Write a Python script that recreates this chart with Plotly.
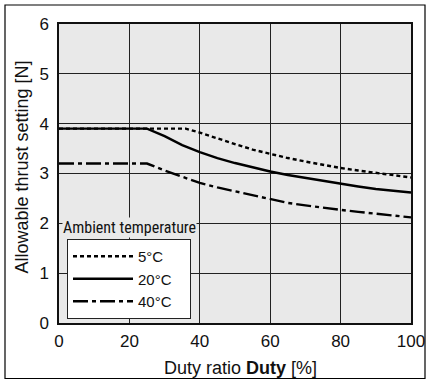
import plotly.graph_objects as go

duty_5 = [0, 36, 40, 45, 50, 55, 60, 65, 70, 75, 80, 85, 90, 95, 100]
thrust_5 = [3.9, 3.9, 3.82, 3.70, 3.59, 3.48, 3.39, 3.31, 3.24, 3.17, 3.11, 3.06, 3.01, 2.96, 2.92]

duty_20 = [0, 25, 30, 35, 40, 45, 50, 55, 60, 65, 70, 75, 80, 85, 90, 95, 100]
thrust_20 = [3.9, 3.9, 3.75, 3.57, 3.43, 3.31, 3.21, 3.12, 3.04, 2.97, 2.91, 2.85, 2.79, 2.74, 2.69, 2.65, 2.62]

duty_40 = [0, 25, 30, 35, 40, 45, 50, 55, 60, 65, 70, 75, 80, 85, 90, 95, 100]
thrust_40 = [3.2, 3.2, 3.06, 2.93, 2.81, 2.72, 2.64, 2.56, 2.48, 2.41, 2.36, 2.31, 2.27, 2.23, 2.19, 2.15, 2.12]

labels = ["5°C", "20°C", "40°C"]
x_ticks = [0, 20, 40, 60, 80, 100]
y_ticks = [0, 1, 2, 3, 4, 5, 6]

FONT = "Liberation Sans, Arial, sans-serif"
NARROW = "Liberation Sans Narrow, Roboto Condensed, Liberation Sans, sans-serif"
PAD = "\u00a0" * 3

fig = go.Figure()

def add(x, y, name, dash):
    fig.add_trace(go.Scatter(x=x, y=y, mode="lines", name=name + PAD,
                             line=dict(color="black", width=2.4, dash=dash)))

add(duty_5, thrust_5, labels[0], "4px,3px")
add(duty_20, thrust_20, labels[1], "solid")
add(duty_40, thrust_40, labels[2], "15px,4px,4px,4px")

L, R, T, B = 59, 16, 24, 57
W, H = 427, 380
pw, ph = W - L - R, H - T - B

def px(xp):
    return (xp - L) / pw

def py(yp):
    return (H - B - yp) / ph

fig.update_layout(
    width=W, height=H,
    margin=dict(l=L, r=R, t=T, b=B, autoexpand=False),
    paper_bgcolor="white",
    plot_bgcolor="#e9e9e9",
    font=dict(family=FONT, size=16, color="#111"),
    showlegend=True,
    legend=dict(
        x=px(67), y=py(239), xanchor="left", yanchor="top",
        bgcolor="white", bordercolor="#222", borderwidth=1,
        font=dict(family=FONT, size=15, color="#111"),
        itemwidth=60, tracegroupgap=0,
    ),
    xaxis=dict(
        range=[0, 100], tickvals=x_ticks, ticks="", showgrid=True,
        gridcolor="#222", gridwidth=1, showline=True, linecolor="#111",
        linewidth=1.5, mirror=True, zeroline=False, automargin=False,
        tickfont=dict(size=17), ticklabelstandoff=2,
    ),
    yaxis=dict(
        range=[0, 6], tickvals=y_ticks, ticks="", showgrid=True,
        gridcolor="#222", gridwidth=1, showline=True, linecolor="#111",
        linewidth=1.5, mirror=True, zeroline=False, automargin=False,
        tickfont=dict(size=17), ticklabelstandoff=5,
    ),
)

# axis titles
fig.add_annotation(
    text="Duty ratio <b>Duty</b> [%]", xref="paper", yref="paper",
    x=px(240), y=py(368), xanchor="center", yanchor="middle",
    showarrow=False, font=dict(family=FONT, size=18, color="#111"),
)
fig.add_annotation(
    text="Allowable thrust setting [N]", xref="paper", yref="paper",
    x=px(21), y=py(167.5), xanchor="center", yanchor="middle", textangle=-90,
    showarrow=False, font=dict(family=FONT, size=18, color="#111"),
)

fig.add_annotation(
    text="Ambient temperature", xref="paper", yref="paper",
    x=px(62), y=py(227), xanchor="left", yanchor="middle",
    showarrow=False, bgcolor="#e9e9e9", borderpad=0,
    font=dict(family=NARROW, size=16, color="#111"),
)

fig.add_shape(type="rect", xref="paper", yref="paper",
              x0=px(5), x1=px(425), y0=py(378.5), y1=py(5),
              line=dict(color="black", width=1.2), fillcolor="rgba(0,0,0,0)",
              layer="above")

fig.write_html("out.html", config={"displayModeBar": False},
               post_script="document.body.style.margin='0';document.body.style.overflow='hidden';")
